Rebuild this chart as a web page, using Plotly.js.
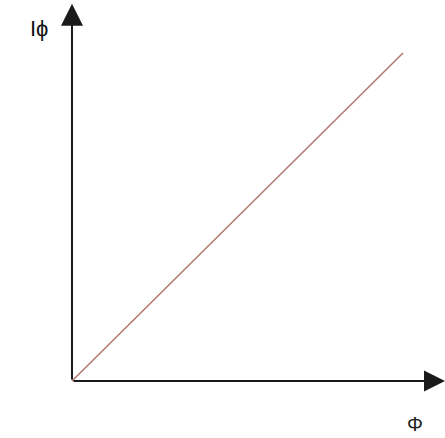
<!DOCTYPE html>
<html><head><meta charset="utf-8">
<script src="https://cdn.plot.ly/plotly-3.0.1.min.js"></script>
<style>html,body{margin:0;padding:0;background:#fff;}#c{width:445px;height:438px;}</style>
</head><body><div id="c"></div>
<script>
// Conceptual chart: Iϕ proportional to Φ
const phi = [0, 1];
const iphi = [0, 1];
const xLabel = 'Φ';
const yLabel = 'Iϕ';

const trace = {
  x: phi, y: iphi, mode: 'lines', type: 'scatter',
  line: {color: '#b27b74', width: 1.6}, hoverinfo: 'skip'
};
const axLineColor = '#1a1a1a';
const layout = {
  width: 445, height: 438,
  margin: {l: 0, r: 0, t: 0, b: 0},
  paper_bgcolor: '#fff', plot_bgcolor: '#fff',
  showlegend: false,
  xaxis: {range: [-0.2175, 1.1269], visible: false, fixedrange: true},
  yaxis: {range: [-0.1738, 1.1616], visible: false, fixedrange: true},
  annotations: [
    {x: 1.1269, y: 0, ax: 0, ay: 0, xref: 'x', yref: 'y', axref: 'x', ayref: 'y',
     showarrow: true, arrowhead: 2, arrowsize: 2.1, arrowwidth: 2, arrowcolor: axLineColor,
     standoff: 0, startstandoff: 0, text: ''},
    {x: 0, y: 1.150, ax: 0, ay: 0, xref: 'x', yref: 'y', axref: 'x', ayref: 'y',
     showarrow: true, arrowhead: 2, arrowsize: 2.2, arrowwidth: 2, arrowcolor: axLineColor,
     standoff: 0, startstandoff: 0, text: ''},
    {x: 39/445, y: 1 - 29/438, xref: 'paper', yref: 'paper', showarrow: false, text: yLabel,
     xanchor: 'center', yanchor: 'middle',
     font: {family: 'Liberation Sans, Arial, sans-serif', size: 22, color: '#111'}},
    {x: 415/445, y: 1 - 424/438, xref: 'paper', yref: 'paper', showarrow: false, text: xLabel,
     xanchor: 'center', yanchor: 'middle',
     font: {family: 'Liberation Sans, Arial, sans-serif', size: 20, color: '#222'}}
  ]
};
Plotly.newPlot('c', [trace], layout, {staticPlot: true, displayModeBar: false});
</script></body></html>
